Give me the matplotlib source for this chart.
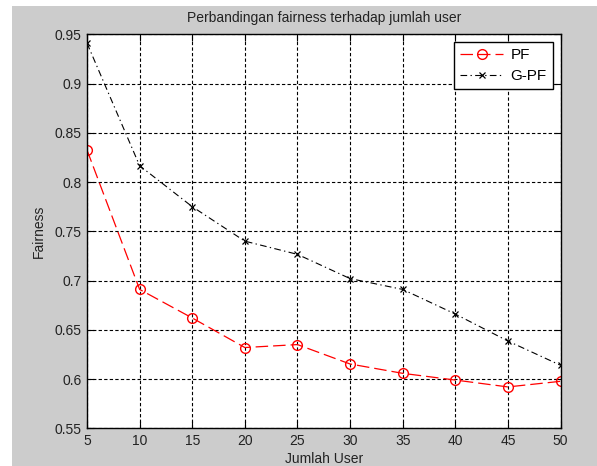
import matplotlib
matplotlib.use("Agg")
import matplotlib.pyplot as plt
from matplotlib.patches import Rectangle

users = [5, 10, 15, 20, 25, 30, 35, 40, 45, 50]
pf = [0.8325, 0.691, 0.662, 0.632, 0.635, 0.6153, 0.6058, 0.599, 0.592, 0.5977]
gpf = [0.941, 0.8166, 0.775, 0.740, 0.7266, 0.702, 0.691, 0.666, 0.6386, 0.614]
xticks = [5, 10, 15, 20, 25, 30, 35, 40, 45, 50]
yticks = [0.55, 0.6, 0.65, 0.7, 0.75, 0.8, 0.85, 0.9, 0.95]
ytick_labels = ["0.55", "0.6", "0.65", "0.7", "0.75", "0.8", "0.85", "0.9", "0.95"]

plt.rcParams['font.family'] = ['Liberation Sans', 'DejaVu Sans']

W, H = 597, 466
fig = plt.figure(figsize=(W / 100, H / 100), dpi=100)
fig.patch.set_facecolor('white')
fig.patches.append(Rectangle((12 / W, 0), 1 - 12 / W, 1 - 6 / H,
                             transform=fig.transFigure, facecolor='#cccccc',
                             edgecolor='none', zorder=-10))

left, right, top, bottom = 87 / W, 560.5 / W, 34.3 / H, 428.3 / H
ax = fig.add_axes([left, 1 - bottom, right - left, bottom - top])
ax.set_facecolor('white')

ax.plot(users, pf, color='red', linestyle=(0, (10, 4)), linewidth=0.9,
        marker='o', markersize=7, markerfacecolor='none',
        markeredgecolor='red', markeredgewidth=1.0, label='PF')
ax.plot(users, gpf, color='black', linestyle=(0, (6, 3, 1.2, 3)), linewidth=0.8,
        marker='x', markersize=5, markeredgecolor='black',
        markeredgewidth=0.9, label='G-PF')

ax.set_xlim(5, 50)
ax.set_ylim(0.55, 0.95)
ax.set_xticks(xticks)
ax.set_xticklabels([str(v) for v in xticks])
ax.set_yticks(yticks)
ax.set_yticklabels(ytick_labels)
ax.grid(True, color='black', linestyle=(0, (3, 2)), linewidth=0.8)
ax.tick_params(direction='in', top=True, right=True, length=5, width=0.8,
               labelsize=10, colors='black', pad=4, labelcolor='#222222')
for s in ax.spines.values():
    s.set_linewidth(1.0)
    s.set_color('black')

ax.set_title('Perbandingan fairness terhadap jumlah user', fontsize=10,
             color='#222222', pad=9)
ax.set_xlabel('Jumlah User', fontsize=10, color='#222222', labelpad=3)
ax.set_ylabel('Fairness', fontsize=10, color='#222222', labelpad=6)

leg = ax.legend(loc='upper right', fontsize=11, frameon=True, fancybox=False,
                edgecolor='black', framealpha=1, borderaxespad=0.5,
                handlelength=2.8, handletextpad=0.5, borderpad=0.4,
                labelspacing=0.45)
leg.get_frame().set_linewidth(1.0)

fig.savefig('out.png', dpi=100)
